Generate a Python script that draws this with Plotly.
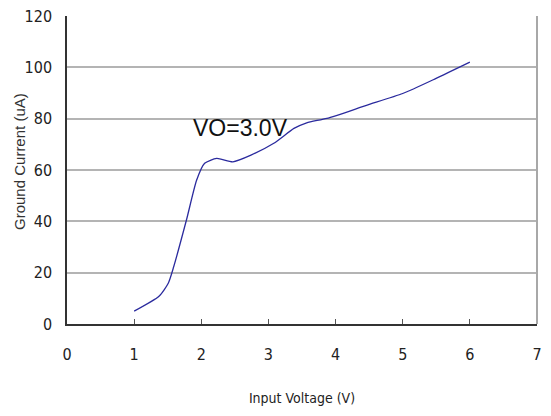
import plotly.graph_objects as go

input_voltage = [1.0, 1.37, 1.51, 1.59, 1.78, 1.93, 2.05, 2.23, 2.47, 2.74, 3.08, 3.38, 3.57, 3.87, 4.46, 5.0, 5.49, 6.0]
ground_current = [5.0, 10.8, 16.0, 22.4, 40.6, 56.0, 62.6, 64.5, 63.2, 65.8, 70.4, 76.2, 78.4, 80.1, 85.2, 89.8, 95.6, 102.0]
x_ticks = [0, 1, 2, 3, 4, 5, 6, 7]
y_ticks = [0, 20, 40, 60, 80, 100, 120]
label_text = "VO=3.0V"
x_title = "Input Voltage (V)"
y_title = "Ground Current (uA)"

narrow = "Liberation Sans Narrow, Arial Narrow, DejaVu Sans Condensed, sans-serif"

fig = go.Figure()
fig.add_trace(go.Scatter(
    x=input_voltage, y=ground_current, mode="lines",
    line=dict(color="#2b2b9e", width=1.3, shape="spline", smoothing=0.6),
    showlegend=False, hoverinfo="skip",
))

fig.add_annotation(x=2.58, y=76.5, text=label_text, showarrow=False,
                   font=dict(family="Liberation Sans, Arial, sans-serif", size=23, color="#111111"),
                   xanchor="center", yanchor="middle")

fig.add_annotation(x=0, y=0.526, xref="paper", yref="paper", text=y_title, showarrow=False,
                   textangle=-90, xanchor="center", yanchor="middle", xshift=-47,
                   font=dict(family="Liberation Sans, Arial, sans-serif", size=15, color="#333333"))

fig.add_shape(type="line", xref="paper", yref="paper", x0=1, x1=1, y0=0, y1=1,
              line=dict(color="#a8a8a8", width=2))

fig.update_layout(
    width=535, height=398,
    margin=dict(l=59, r=6, t=8, b=82),
    paper_bgcolor="white", plot_bgcolor="white",
    xaxis=dict(
        range=[0, 7], tickvals=x_ticks, ticktext=[str(v) for v in x_ticks],
        showgrid=False, zeroline=False, automargin=False,
        showline=True, linecolor="#333333", linewidth=1.5,
        ticks="inside", ticklen=5, tickcolor="#555555", tickwidth=1,
        ticklabelstandoff=15, ticklabeloverflow="allow",
        tickfont=dict(family=narrow, size=16, color="#222222"),
        title=dict(text=x_title, standoff=36,
                   font=dict(family=narrow, size=14, color="#222222")),
    ),
    yaxis=dict(
        range=[0, 120], tickvals=y_ticks, ticktext=[str(v) for v in y_ticks],
        showgrid=True, gridcolor="#b4b4b4", gridwidth=1.5,
        zeroline=False, automargin=False,
        showline=True, linecolor="#333333", linewidth=1.5,
        ticks="", ticklabelstandoff=10, ticklabeloverflow="allow",
        tickfont=dict(family=narrow, size=16, color="#222222"),
    ),
)

fig.write_html("out.html")
